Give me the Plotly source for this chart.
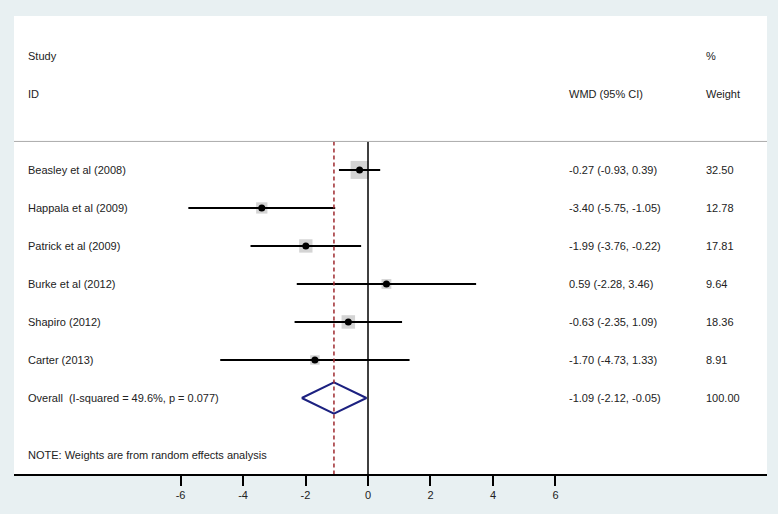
import plotly.graph_objects as go

# study data
studies = ["Beasley et al (2008)", "Happala et al (2009)", "Patrick et al (2009)",
           "Burke et al (2012)", "Shapiro (2012)", "Carter (2013)"]
wmd = [-0.27, -3.40, -1.99, 0.59, -0.63, -1.70]
ci_low = [-0.93, -5.75, -3.76, -2.28, -2.35, -4.73]
ci_high = [0.39, -1.05, -0.22, 3.46, 1.09, 1.33]
weights = [32.50, 12.78, 17.81, 9.64, 18.36, 8.91]

overall_label = "Overall\u00a0\u00a0(I-squared = 49.6%, p = 0.077)"
overall_est = -1.09
overall_low = -2.12
overall_high = -0.05
overall_weight = 100.00

tick_vals = [-6, -4, -2, 0, 2, 4, 6]
tick_text = [str(v) for v in tick_vals]
note = "NOTE: Weights are from random effects analysis"

rows = list(range(len(studies)))
overall_row = len(studies)

font = dict(family="Liberation Sans, Arial, sans-serif", size=11, color="#222222")

fig = go.Figure()

# weight boxes (area proportional to weight)
fig.add_trace(go.Scatter(
    x=wmd, y=rows, mode="markers",
    marker=dict(symbol="square", color="#c2c2c2",
                size=[18 * (w / max(weights)) ** 0.5 for w in weights],
                line=dict(width=0)),
    hoverinfo="skip", showlegend=False,
))

# confidence intervals
for i in rows:
    fig.add_trace(go.Scatter(
        x=[ci_low[i], ci_high[i]], y=[i, i], mode="lines",
        line=dict(color="black", width=2), hoverinfo="skip", showlegend=False,
    ))

# point estimates
fig.add_trace(go.Scatter(
    x=wmd, y=rows, mode="markers",
    marker=dict(symbol="circle", color="black", size=7),
    hoverinfo="skip", showlegend=False,
))

# overall diamond
h = 0.41
fig.add_trace(go.Scatter(
    x=[overall_low, overall_est, overall_high, overall_est, overall_low],
    y=[overall_row, overall_row - h, overall_row, overall_row + h, overall_row],
    mode="lines", line=dict(color="#1c2180", width=2),
    hoverinfo="skip", showlegend=False,
))

# reference lines
fig.add_shape(type="line", x0=0, x1=0, y0=-0.75, y1=8, xref="x", yref="y",
              line=dict(color="black", width=1.5))
fig.add_shape(type="line", x0=overall_est, x1=overall_est, y0=-0.75, y1=8,
              xref="x", yref="y", line=dict(color="#9e2a2f", width=1.5, dash="4px,3px"))
fig.add_shape(type="line", x0=0, x1=1, y0=-0.75, y1=-0.75, xref="paper", yref="y",
              line=dict(color="#aaaaaa", width=1))

# text columns
col_label, col_wmd, col_wt = 0.016, 0.734, 0.916


def txt(x, y, s):
    fig.add_annotation(x=x, y=y, xref="paper", yref="y", text=s, showarrow=False,
                       xanchor="left", yanchor="middle", font=font)


txt(col_label, -3, "Study")
txt(col_label, -2, "ID")
txt(col_wmd, -2, "WMD (95% CI)")
txt(col_wt, -3, "%")
txt(col_wt, -2, "Weight")

for i in rows:
    txt(col_label, i, studies[i])
    txt(col_wmd, i, f"{wmd[i]:.2f} ({ci_low[i]:.2f}, {ci_high[i]:.2f})")
    txt(col_wt, i, f"{weights[i]:.2f}")

txt(col_label, overall_row, overall_label)
txt(col_wmd, overall_row, f"{overall_est:.2f} ({overall_low:.2f}, {overall_high:.2f})")
txt(col_wt, overall_row, f"{overall_weight:.2f}")
txt(col_label, 7.5, note)

fig.update_layout(
    width=778, height=514,
    margin=dict(l=14, r=11, t=16, b=40),
    paper_bgcolor="#e8f0f2", plot_bgcolor="white",
    font=font,
    xaxis=dict(range=[-11.33, 12.77], tickvals=tick_vals, ticktext=tick_text,
               showgrid=False, zeroline=False, showline=True, linecolor="black",
               linewidth=2, ticks="outside", ticklen=10, tickwidth=2,
               tickcolor="black", fixedrange=True),
    yaxis=dict(range=[8.0, -4.05], visible=False, showgrid=False, zeroline=False,
               fixedrange=True),
)

# drop the page's default body margin so the figure fills the window
fig.write_html("out.html", config={"displayModeBar": False},
               post_script="document.body.style.margin='0';"
                           "document.body.style.background='#e8f0f2';")
